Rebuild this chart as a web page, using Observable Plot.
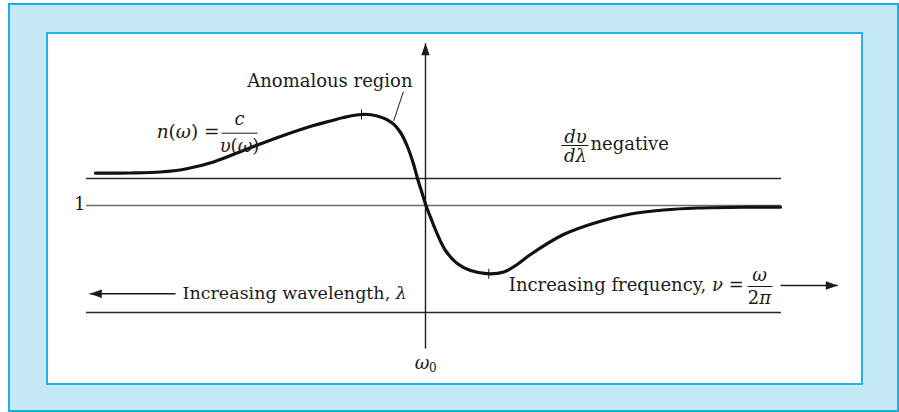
<!DOCTYPE html>
<html>
<head>
<meta charset="utf-8">
<script src="https://cdn.jsdelivr.net/npm/d3@7"></script>
<script src="https://cdn.jsdelivr.net/npm/@observablehq/plot@0.6"></script>
<style>
  body { margin: 0; background: #fff; }
  #wrap { position: relative; width: 899px; height: 412px; overflow: hidden; }
  .outer { position: absolute; left: 8px; top: 3px; width: 891px; height: 409px; box-sizing: border-box;
           border: 2.5px solid #1aaee6; background: #c6e9f8; }
  .inner { position: absolute; left: 45.5px; top: 31.5px; width: 817.5px; height: 353px; box-sizing: border-box;
           border: 2px solid #22b3ec; background: #fff; }
  #chart { position: absolute; left: 0; top: 0; }
</style>
</head>
<body>
<div id="wrap"><div class="outer"></div><div class="inner"></div><div id="chart"></div></div>
<script>
// Refractive index n(ω) across an absorption resonance; ω is measured from ω0.
const omega = [-3.30, -2.95, -2.65, -2.40, -2.12, -1.783, -1.45, -1.12, -0.95, -0.82, -0.64, -0.483, -0.333,
               -0.25, -0.183, -0.123, -0.077, -0.033, 0.005, 0.05, 0.117, 0.20, 0.317, 0.45, 0.633, 0.783,
               0.917, 1.05, 1.38, 1.717, 2.05, 2.38, 2.717, 3.217, 3.55];
const index = [1.1615, 1.1625, 1.1675, 1.1825, 1.2175, 1.2825, 1.345, 1.40, 1.4225, 1.44, 1.455, 1.4475, 1.4125,
               1.365, 1.2975, 1.2125, 1.13, 1.06, 1.0, 0.9415, 0.8585, 0.775, 0.71, 0.675, 0.6585, 0.6675,
               0.705, 0.755, 0.855, 0.9165, 0.9575, 0.9775, 0.9875, 0.9915, 0.9915];

// Extremes of the curve, marked with small crosses
const extremeOmega = [-0.64, 0.633];
const extremeIndex = [1.455, 0.6585];

// Horizontal guide lines (the middle one is n = 1)
const guideLevels = [1.135, 1.0, 0.465];
const guideColors = ["#2a2a2a", "#6b6b6b", "#2a2a2a"];
const guideSpan = [-3.39, 3.56];

// Arrows: vertical axis at ω0, wavelength arrow, frequency arrow
const arrowX1 = [0, -2.5, 3.55];
const arrowY1 = [0.285, 0.5585, 0.6];
const arrowX2 = [0, -3.357, 4.123];
const arrowY2 = [1.8115, 0.5585, 0.6];

// Leader from the "Anomalous region" label to the curve
const leaderX = [-0.223, -0.317];
const leaderY = [1.5665, 1.425];

// Fraction bars for c/υ(ω), dυ/dλ and ω/2π
const barX1 = [-2.04, 1.357, 3.22];
const barX2 = [-1.68, 1.63, 3.47];
const barY = [1.3615, 1.30, 0.595];

// Text labels; segments between underscores are set in italics
const labelText = ["Anomalous region", "_n_(_ω_) =", "_c_", "_υ_(_ω_)", "_dυ_", "_dλ_", "negative", "1",
                   "Increasing wavelength, _λ_", "Increasing frequency, _ν_ =", "_ω_", "2_π_", "_ω_", "0"];
const labelX = [-1.783, -2.06, -1.86, -1.86, 1.50, 1.50, 1.65, -3.40, -2.43, 0.833, 3.34, 3.34, -0.033, 0.072];
const labelY = [1.6225, 1.3665, 1.43, 1.295, 1.3415, 1.246, 1.3085, 1.005, 0.5625, 0.60, 0.65, 0.535, 0.21, 0.185];
const labelAnchor = ["start", "end", "middle", "middle", "middle", "middle", "start", "end",
                     "start", "start", "middle", "middle", "middle", "middle"];
const labelSize = [18, 18.5, 18, 18, 18, 18, 18, 18, 17.5, 18, 18, 18, 18, 12];

const curve = omega.map((w, i) => ({w, n: index[i]}));
const extremes = extremeOmega.map((w, i) => ({w, n: extremeIndex[i]}));
const guides = guideLevels.map((n, i) => ({n, color: guideColors[i]}));
const arrows = arrowX1.map((x, i) => ({x1: x, y1: arrowY1[i], x2: arrowX2[i], y2: arrowY2[i]}));
const bars = barX1.map((x, i) => ({x1: x, x2: barX2[i], y: barY[i]}));
const labels = labelText.map((t, i) => ({t, x: labelX[i], y: labelY[i], anchor: labelAnchor[i], size: labelSize[i]}));

const font = "DejaVu Serif";
const ink = "#1d1b1c";

const textMarks = labels.map(d => Plot.text([d], {
  x: "x", y: "y", text: "t", textAnchor: d.anchor, fontSize: d.size, fontFamily: font, fill: ink
}));

const chart = Plot.plot({
  width: 899,
  height: 412,
  x: {domain: [-3.4, 3.6], range: [85, 785], axis: null},
  y: {domain: [0.5, 1.5], range: [305, 105], axis: null},
  style: {background: "transparent", overflow: "visible"},
  marks: [
    Plot.ruleY(guides, {y: "n", x1: guideSpan[0], x2: guideSpan[1], stroke: "color", strokeWidth: 1.4}),
    Plot.link(arrows, {x1: "x1", y1: "y1", x2: "x2", y2: "y2", stroke: ink, strokeWidth: 1.4, markerEnd: "arrow"}),
    Plot.line([{x: leaderX[0], y: leaderY[0]}, {x: leaderX[1], y: leaderY[1]}], {x: "x", y: "y", stroke: ink, strokeWidth: 1}),
    Plot.link(bars, {x1: "x1", x2: "x2", y1: "y", y2: "y", stroke: ink, strokeWidth: 1}),
    Plot.line(curve, {x: "w", y: "n", curve: "catmull-rom", stroke: "#111", strokeWidth: 3.2}),
    Plot.dot(extremes, {x: "w", y: "n", symbol: "plus", r: 3.3, stroke: "#111", strokeWidth: 1}),
    ...textMarks
  ]
});

// Filled triangular arrowheads
chart.querySelectorAll("marker").forEach(m => {
  m.setAttribute("viewBox", "-13 -5 14 10");
  m.setAttribute("markerUnits", "userSpaceOnUse");
  m.setAttribute("markerWidth", "14");
  m.setAttribute("markerHeight", "10");
  m.setAttribute("refX", "0");
  m.setAttribute("refY", "0");
  m.setAttribute("orient", "auto");
  m.innerHTML = "";
  const p = document.createElementNS("http://www.w3.org/2000/svg", "path");
  p.setAttribute("d", "M-12,-4.2L0,0L-12,4.2Z");
  p.setAttribute("fill", ink);
  p.setAttribute("stroke", "none");
  m.appendChild(p);
});

// Italic segments inside labels
chart.querySelectorAll("text").forEach(t => {
  const raw = t.textContent;
  if (!raw.includes("_")) return;
  t.textContent = "";
  raw.split("_").forEach((part, i) => {
    if (!part) return;
    const s = document.createElementNS("http://www.w3.org/2000/svg", "tspan");
    s.textContent = part;
    if (i % 2 === 1) s.setAttribute("font-style", "italic");
    t.appendChild(s);
  });
});

document.getElementById("chart").appendChild(chart);
</script>
</body>
</html>
